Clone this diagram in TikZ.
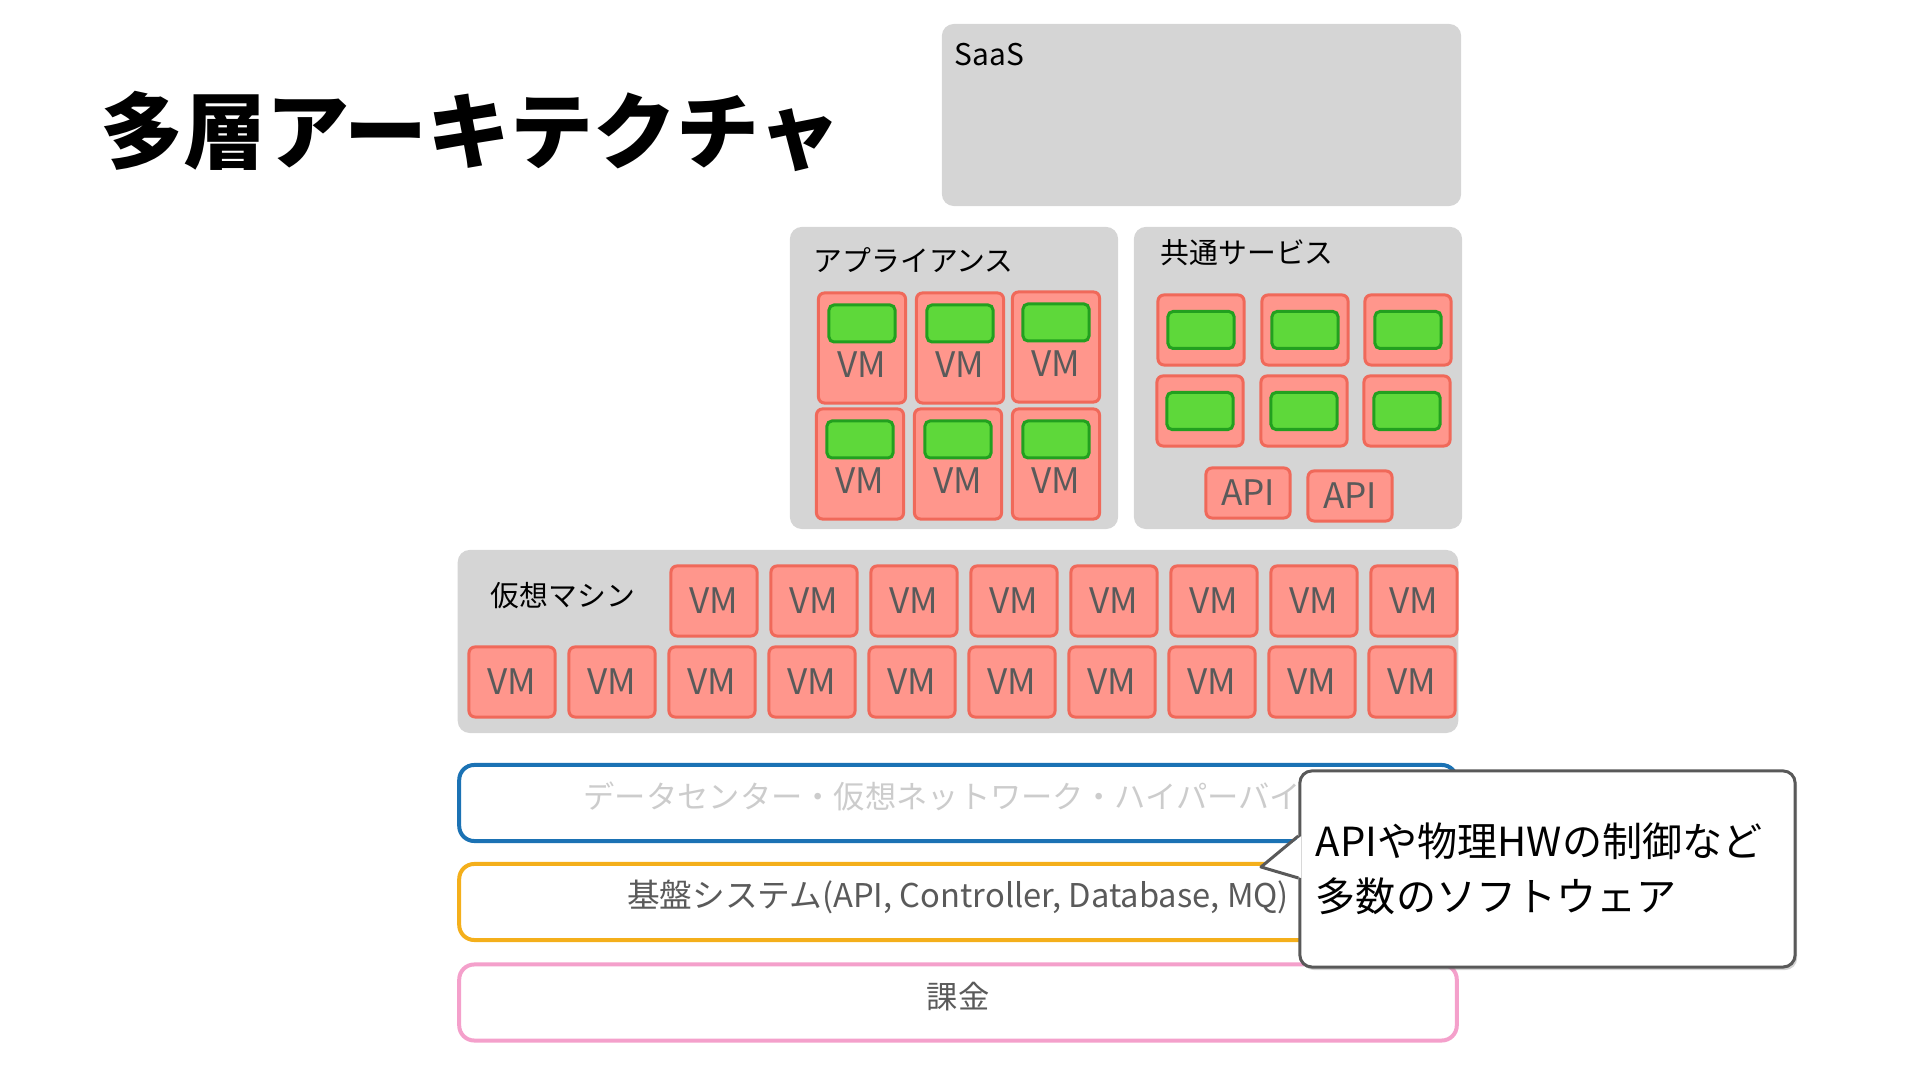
\documentclass[tikz,border=0pt]{standalone}
\usepackage{fontspec}
\setmainfont{Noto Sans CJK JP}
\usepackage{tikz}
\usetikzlibrary{positioning}
\usetikzlibrary{shadows}
\definecolor{layergray}{HTML}{D5D5D5}
\definecolor{vmfill}{HTML}{FF968C}
\definecolor{vmline}{HTML}{F0695A}
\definecolor{appfill}{HTML}{5ED83A}
\definecolor{appline}{HTML}{22A01F}
\definecolor{dcblue}{HTML}{1B72B4}
\definecolor{baseorange}{HTML}{F4AF1B}
\definecolor{billpink}{HTML}{F4A0CB}
\definecolor{txtgray}{HTML}{5A5A5A}
\tikzset{
  layer_n/.style = {rectangle, fill=layergray, rounded corners=0.12cm,
    inner sep=0pt},% grey layer
  band_n/.style = {rectangle, draw, line width=0.04cm, rounded corners=0.15cm,
    minimum width=9.97cm, minimum height=0.76cm, inner sep=0pt,
    text height=0.12cm, text depth=0pt,
    text=txtgray, font=\fontsize{8.9}{10}\selectfont},% lower bands
  vm_n/.style = {rectangle, draw=vmline, fill=vmfill, line width=0.03cm,
    rounded corners=0.06cm, minimum width=0.86cm, minimum height=0.70cm,
    inner sep=0pt, text=txtgray, font=\fontsize{10}{12}\selectfont},% vm
  appvm_n/.style = {vm_n, minimum width=0.87cm, minimum height=1.10cm,
    text height=0.58cm, text depth=0pt},% vm with an appliance
  app_n/.style = {rectangle, draw=appline, fill=appfill, line width=0.03cm,
    rounded corners=0.05cm, minimum width=0.66cm, minimum height=0.37cm,
    inner sep=0pt},% green appliance
  api_n/.style = {vm_n, minimum width=0.84cm, minimum height=0.50cm},
  title_n/.style = {inner sep=0pt, anchor=west, font=\fontsize{8.2}{10}\selectfont},
}

\begin{document}
\begin{tikzpicture}[x=0.01cm,y=-0.01cm]
\useasboundingbox (0,0) rectangle (1920,1080);

\node [inner sep=0pt, anchor=west, font=\bfseries\fontsize{23.6}{26}\selectfont]
  (title) at (100,131) {多層アーキテクチャ};

% layers
\node [layer_n, minimum width=5.19cm, minimum height=1.82cm] (saas) at (1201.5,115) {};
\node [title_n, font=\fontsize{8.5}{10}\selectfont] (saaslbl) at (954,55) {SaaS};
\node [layer_n, minimum width=3.28cm, minimum height=3.02cm] (appl) at (954,378) {};
\node [title_n] (appllbl) at (813,260) {アプライアンス};
\node [layer_n, minimum width=3.28cm, minimum height=3.02cm] (common) at (1298,378) {};
\node [title_n] (commonlbl) at (1160,253) {共通サービス};
\node [layer_n, minimum width=10.00cm, minimum height=1.83cm] (virt) at (958,641.5) {};
\node [title_n] (virtlbl) at (490,596) {仮想マシン};

% appliances
\node [appvm_n] (a1) at (862,348) {VM};
\node [appvm_n] (a2) at (960,348) {VM};
\node [appvm_n] (a3) at (1056,347) {VM};
\node [appvm_n] (a4) at (860,464) {VM};
\node [appvm_n] (a5) at (958,464) {VM};
\node [appvm_n] (a6) at (1056,464) {VM};
\node [app_n, below=0.12cm of a1.north] (g1) {};
\node [app_n, below=0.12cm of a2.north] (g2) {};
\node [app_n, below=0.12cm of a3.north] (g3) {};
\node [app_n, below=0.12cm of a4.north] (g4) {};
\node [app_n, below=0.12cm of a5.north] (g5) {};
\node [app_n, below=0.12cm of a6.north] (g6) {};

% common services
\node [vm_n] (s1) at (1201,330) {};
\node [vm_n] (s2) at (1305,330) {};
\node [vm_n] (s3) at (1408,330) {};
\node [vm_n] (s4) at (1200,411) {};
\node [vm_n] (s5) at (1304,411) {};
\node [vm_n] (s6) at (1407,411) {};
\node [app_n] (h1) at (s1) {};
\node [app_n] (h2) at (s2) {};
\node [app_n] (h3) at (s3) {};
\node [app_n] (h4) at (s4) {};
\node [app_n] (h5) at (s5) {};
\node [app_n] (h6) at (s6) {};
\node [api_n] (api1) at (1248,493) {API};
\node [api_n] (api2) at (1350,496) {API};

% virtual machines
\node [vm_n] (v1) at (714,601) {VM};
\node [vm_n] (v2) at (814,601) {VM};
\node [vm_n] (v3) at (914,601) {VM};
\node [vm_n] (v4) at (1014,601) {VM};
\node [vm_n] (v5) at (1114,601) {VM};
\node [vm_n] (v6) at (1214,601) {VM};
\node [vm_n] (v7) at (1314,601) {VM};
\node [vm_n] (v8) at (1414,601) {VM};
\node [vm_n] (w1) at (512,682) {VM};
\node [vm_n] (w2) at (612,682) {VM};
\node [vm_n] (w3) at (712,682) {VM};
\node [vm_n] (w4) at (812,682) {VM};
\node [vm_n] (w5) at (912,682) {VM};
\node [vm_n] (w6) at (1012,682) {VM};
\node [vm_n] (w7) at (1112,682) {VM};
\node [vm_n] (w8) at (1212,682) {VM};
\node [vm_n] (w9) at (1312,682) {VM};
\node [vm_n] (w10) at (1412,682) {VM};

% bands
\node [band_n, draw=dcblue, text=black!20] (dc) at (958,803)
  {データセンター・仮想ネットワーク・ハイパーバイザ};
\node [band_n, draw=baseorange, font=\fontsize{9.3}{10}\selectfont] (base) at (958,902)
  {基盤システム(API, Controller, Database, MQ)};
\node [band_n, draw=billpink] (bill) at (958,1002.5) {課金};

% callout
\node [rectangle, draw=black!65, fill=white, line width=0.03cm,
  rounded corners=0.12cm, minimum width=4.95cm, minimum height=1.96cm,
  text width=4.63cm, inner xsep=0.16cm, align=left,
  font=\fontsize{11.4}{15.8}\selectfont,
  drop shadow={opacity=0.35, shadow xshift=0.02cm, shadow yshift=-0.03cm}]
  (note) at (1547.5,869) {APIや物理HWの制御など\\多数のソフトウェア};
\coordinate (tip) at (1261,867);
\fill [white] ([xshift=0.03cm]note.west |- 0,836) -- (tip) -- ([xshift=0.03cm]note.west |- 0,878) -- cycle;
\draw [black!65, line width=0.03cm, line join=round]
  (note.west |- 0,836) -- (tip) -- (note.west |- 0,878);
\end{tikzpicture}
\end{document}
